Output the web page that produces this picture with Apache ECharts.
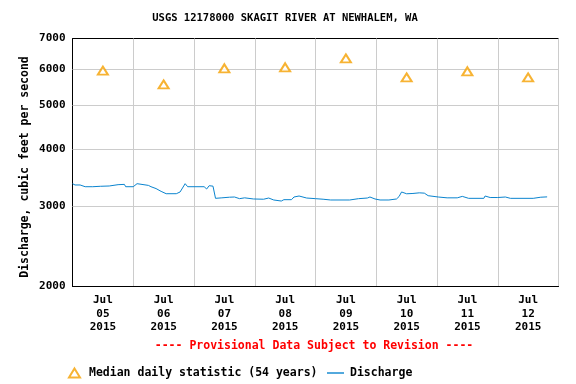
<!DOCTYPE html>
<html><head><meta charset="utf-8">
<script src="https://cdn.jsdelivr.net/npm/echarts@6/dist/echarts.min.js"></script>
<style>html,body{margin:0;padding:0;background:#fff}#c{width:576px;height:384px}</style>
</head><body><div id="c"></div>
<script>
const chartTitle = 'USGS 12178000 SKAGIT RIVER AT NEWHALEM, WA';
const yAxisTitle = 'Discharge, cubic feet per second';
const provisionalNote = '---- Provisional Data Subject to Revision ----';
const medianName = 'Median daily statistic (54 years)';
const dischargeName = 'Discharge';
const xStart = '2015-07-05 00:00';
const xEnd = '2015-07-13 00:00';
const yTicks = [2000, 3000, 4000, 5000, 6000, 7000];
const medianTimes = ['2015-07-05 12:00','2015-07-06 12:00','2015-07-07 12:00','2015-07-08 12:00','2015-07-09 12:00','2015-07-10 12:00','2015-07-11 12:00','2015-07-12 12:00'];
const medianValues = [5950, 5550, 6020, 6050, 6330, 5750, 5930, 5750];
const dischargeTimes = [
 '2015-07-05 00:00','2015-07-05 01:00','2015-07-05 03:00','2015-07-05 05:00','2015-07-05 08:00','2015-07-05 08:30','2015-07-05 11:00','2015-07-05 14:30','2015-07-05 15:00','2015-07-05 18:00','2015-07-05 20:30','2015-07-05 21:00',
 '2015-07-06 00:00','2015-07-06 01:30','2015-07-06 02:00','2015-07-06 06:00','2015-07-06 07:00','2015-07-06 09:00','2015-07-06 11:00','2015-07-06 13:00','2015-07-06 17:00','2015-07-06 18:30','2015-07-06 20:30','2015-07-06 21:30',
 '2015-07-07 04:00','2015-07-07 05:00','2015-07-07 06:00','2015-07-07 07:30','2015-07-07 08:30','2015-07-07 11:00','2015-07-07 14:00','2015-07-07 16:00','2015-07-07 18:00','2015-07-07 20:00','2015-07-07 23:30',
 '2015-07-08 00:00','2015-07-08 03:30','2015-07-08 05:30','2015-07-08 07:30','2015-07-08 10:30','2015-07-08 11:30','2015-07-08 14:30','2015-07-08 15:30','2015-07-08 17:30','2015-07-08 20:30',
 '2015-07-09 00:00','2015-07-09 03:00','2015-07-09 06:00','2015-07-09 13:30','2015-07-09 17:00','2015-07-09 20:30','2015-07-09 21:30','2015-07-09 23:30',
 '2015-07-10 01:30','2015-07-10 05:00','2015-07-10 08:00','2015-07-10 09:00','2015-07-10 10:00','2015-07-10 12:00','2015-07-10 14:30','2015-07-10 17:00','2015-07-10 19:00','2015-07-10 20:30',
 '2015-07-11 00:30','2015-07-11 04:00','2015-07-11 08:00','2015-07-11 10:00','2015-07-11 12:30','2015-07-11 18:30','2015-07-11 19:00','2015-07-11 21:00',
 '2015-07-12 00:00','2015-07-12 03:00','2015-07-12 05:00','2015-07-12 14:00','2015-07-12 17:00','2015-07-12 19:30'
];
const dischargeValues = [
 3362,3340,3340,3311,3311,3323,3318,3323,3350,3345,3350,3311,
 3311,3362,3333,3333,3311,3280,3234,3196,3196,3224,3362,3311,
 3311,3273,3328,3320,3122,3130,3140,3143,3117,3130,3112,
 3112,3108,3127,3096,3080,3101,3101,3143,3159,3127,
 3117,3108,3096,3096,3117,3127,3143,3112,
 3096,3096,3112,3150,3224,3195,3200,3210,3205,3164,
 3143,3130,3130,3153,3122,3122,3159,3135,
 3135,3143,3122,3122,3140,3145
];

function toMs(s) {
  const [d, t] = s.split(' ');
  const [Y, M, D] = d.split('-').map(Number);
  const [h, m] = t.split(':').map(Number);
  return Date.UTC(Y, M - 1, D, h, m);
}
const DAY = 86400000;
const xMin = toMs(xStart), xMax = toMs(xEnd);
const months = ['Jan','Feb','Mar','Apr','May','Jun','Jul','Aug','Sep','Oct','Nov','Dec'];
const FONT = 'DejaVu Sans Mono';
const pad2 = n => (n < 10 ? '0' : '') + n;
const LBL_W = 40;
const HALF_DAY_PX = 30.375;

const chart = echarts.init(document.getElementById('c'), null, {renderer: 'canvas'});
const lblStyle = {width: LBL_W, align: 'center', lineHeight: 13.5, fontFamily: FONT, fontWeight: 'bold', fontSize: 11, color: '#000'};
chart.setOption({
  animation: false,
  backgroundColor: '#fff',
  grid: {left: 72.5, top: 38.5, width: 486, height: 248, outerBoundsMode: 'none', containLabel: false,
         show: true, borderColor: '#000', borderWidth: 1, backgroundColor: 'transparent'},
  xAxis: {
    type: 'value', min: xMin, max: xMax, interval: DAY,
    axisLine: {show: true, lineStyle: {color: '#000', width: 1}}, axisTick: {show: false},
    splitLine: {show: true, lineStyle: {color: '#cccccc', width: 1}},
    axisLabel: {
      showMinLabel: true, showMaxLabel: false, hideOverlap: false,
      margin: 7, lineHeight: 13.5, padding: [0, 0, 0, HALF_DAY_PX - LBL_W / 2], align: 'left',
      fontFamily: FONT, fontWeight: 'bold', fontSize: 11, color: '#000',
      rich: {a: lblStyle},
      formatter: v => {
        if (v >= xMax) return '';
        const d = new Date(v);
        return '{a|' + months[d.getUTCMonth()] + '}\n{a|' + pad2(d.getUTCDate()) + '}\n{a|' + d.getUTCFullYear() + '}';
      }
    }
  },
  yAxis: {
    type: 'log', logBase: 10, min: 2000, max: 7000,
    axisLine: {show: true, lineStyle: {color: '#000', width: 1}}, axisTick: {show: false}, axisLabel: {show: false}, splitLine: {show: false},
    name: yAxisTitle, nameLocation: 'middle', nameGap: 41,
    nameTextStyle: {fontFamily: FONT, fontWeight: 'bold', fontSize: 11.5, color: '#000', padding: [0, 9, 0, 0]}
  },
  legend: [
    {data: [{name: medianName}], left: 63, top: 362, itemWidth: 11, itemHeight: 9, itemGap: 0,
     textStyle: {fontFamily: FONT, fontWeight: 'bold', fontSize: 11.5, color: '#000', padding: [0, 0, 0, 4]}, selectedMode: false},
    {data: [{name: dischargeName, icon: 'path://M0,0L17,0L17,1.4L0,1.4Z'}], left: 322, top: 362, itemWidth: 17, itemHeight: 9, itemGap: 0,
     textStyle: {fontFamily: FONT, fontWeight: 'bold', fontSize: 11.5, color: '#000', padding: [0, 0, 0, 1]}, selectedMode: false}
  ],
  graphic: [
    {type: 'text', x: 285, y: 18, style: {text: chartTitle, align: 'center', verticalAlign: 'middle', fontFamily: FONT, fontWeight: 'bold', fontSize: 10.5, fill: '#000'}},
    {type: 'text', x: 314, y: 346, style: {text: provisionalNote, align: 'center', verticalAlign: 'middle', fontFamily: FONT, fontWeight: 'bold', fontSize: 11.5, fill: '#ff0000'}}
  ],
  series: [
    {
      name: dischargeName, type: 'line', z: 3,
      data: dischargeTimes.map((t, i) => [toMs(t), dischargeValues[i]]),
      symbol: 'none', lineStyle: {color: '#0a84cf', width: 1}, itemStyle: {color: '#0a84cf'},
      markLine: {
        silent: true, z: 1, symbol: ['none', 'none'],
        lineStyle: {color: '#cccccc', width: 1, type: 'solid'},
        label: {position: 'start', distance: 7, formatter: p => String(p.value), fontFamily: FONT, fontWeight: 'bold', fontSize: 11, color: '#000'},
        data: yTicks.map(v => (v === 2000 || v === 7000) ? {yAxis: v, lineStyle: {color: 'rgba(0,0,0,0)'}} : {yAxis: v})
      }
    },
    {
      name: medianName, type: 'scatter', z: 4,
      data: medianTimes.map((t, i) => [toMs(t), medianValues[i]]),
      symbol: 'emptyTriangle', symbolSize: [10, 8],
      itemStyle: {color: '#f5a000', borderColor: '#f5a000', borderWidth: 1}
    }
  ]
});
</script>
</body></html>
